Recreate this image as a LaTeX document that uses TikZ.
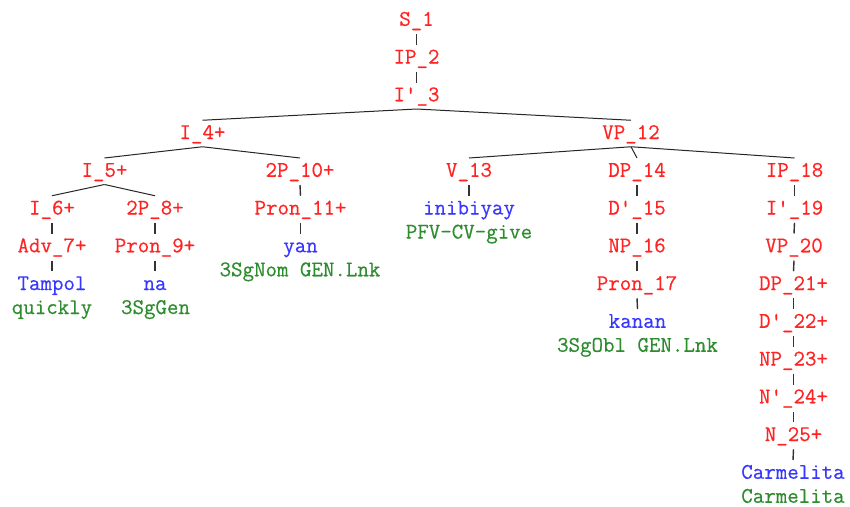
\documentclass[tikz,border=0pt]{standalone}
\usepackage{fontspec}
\newfontfamily\treefont[FakeBold=0.5]{Latin Modern Mono}
\begin{document}
\begin{tikzpicture}[x=1pt,y=-1pt,
  lbl/.style={inner sep=0pt, text height=12.5pt, text depth=0pt, anchor=center,
              font=\treefont\fontsize{22.3}{23}\selectfont},
  cat/.style={lbl, text={rgb,255:red,255;green,35;blue,35}},
  word/.style={lbl, text={rgb,255:red,55;green,55;blue,255}},
  gloss/.style={lbl, text={rgb,255:red,45;green,140;blue,45}},
  link/.style={draw=black!85, line width=1pt},
  tick/.style={draw=black!80, line width=1.4pt}]
\useasboundingbox (0,0) rectangle (850,506);
% rows: y = 19.5 + 37.75 k
\node[cat] (s1)  at (416.5, 19.5) {S\_1};
\node[cat] (ip2) at (416.5, 57.25) {IP\_2};
\node[cat] (ib3) at (416.5, 95) {I'\_3};
\node[cat] (i4)  at (202.5, 132.75) {I\_4+};
\node[cat] (vp12) at (631, 132.75) {VP\_12};
\node[cat] (i5)  at (104.5, 170.5) {I\_5+};
\node[cat] (p10) at (300, 170.5) {2P\_10+};
\node[cat] (v13) at (469, 170.5) {V\_13};
\node[cat] (dp14) at (637, 170.5) {DP\_14};
\node[cat] (ip18) at (794.5, 170.5) {IP\_18};
\node[cat] (i6)  at (52, 208.25) {I\_6+};
\node[cat] (p8)  at (155, 208.25) {2P\_8+};
\node[cat] (pr11) at (300.5, 208.25) {Pron\_11+};
\node[word] (w13) at (469, 208.25) {inibiyay};
\node[gloss] (g13) at (469, 232.25) {PFV-CV-give};
\node[cat] (db15) at (637, 208.25) {D'\_15};
\node[cat] (ib19) at (794.5, 208.25) {I'\_19};
\node[cat] (adv7) at (52, 246) {Adv\_7+};
\node[cat] (pr9) at (155, 246) {Pron\_9+};
\node[word] (w11) at (300.5, 246) {yan};
\node[gloss] (g11) at (300, 270) {3SgNom GEN.Lnk};
\node[cat] (np16) at (637, 246) {NP\_16};
\node[cat] (vp20) at (794, 246) {VP\_20};
\node[word] (w7) at (52, 283.75) {Tampol};
\node[gloss] (g7) at (52, 307.75) {quickly};
\node[word] (w9) at (155, 283.75) {na};
\node[gloss] (g9) at (155.5, 307.75) {3SgGen};
\node[cat] (pr17) at (637, 283.75) {Pron\_17};
\node[cat] (dp21) at (793.5, 283.75) {DP\_21+};
\node[word] (w17) at (637.5, 321.5) {kanan};
\node[gloss] (g17) at (637.5, 345.5) {3SgObl GEN.Lnk};
\node[cat] (db22) at (793.5, 321.5) {D'\_22+};
\node[cat] (np23) at (793.5, 359.25) {NP\_23+};
\node[cat] (nb24) at (793.5, 397) {N'\_24+};
\node[cat] (n25) at (793.5, 434.75) {N\_25+};
\node[word] (w25) at (793, 472.5) {Carmelita};
\node[gloss] (g25) at (793, 496.5) {Carmelita};

% branching connectors
\foreach \p/\c in {ib3/i4, ib3/vp12, i4/i5, i4/p10, i5/i6, i5/p8,
                   vp12/v13, vp12/dp14, vp12/ip18}
  \draw[link] ([yshift=-14pt]\p.center) -- ([yshift=12.5pt]\c.center);

% unary ticks
\foreach \p/\c in {s1/ip2, ip2/ib3, i6/adv7, adv7/w7, p8/pr9, pr9/w9,
                   p10/pr11, pr11/w11, v13/w13, dp14/db15, db15/np16,
                   np16/pr17, pr17/w17, ip18/ib19, ib19/vp20, vp20/dp21,
                   dp21/db22, db22/np23, np23/nb24, nb24/n25, n25/w25}
  \draw[tick] ([yshift=-14.5pt]\p.center) -- ([yshift=12.5pt]\c.center);
\end{tikzpicture}
\end{document}
